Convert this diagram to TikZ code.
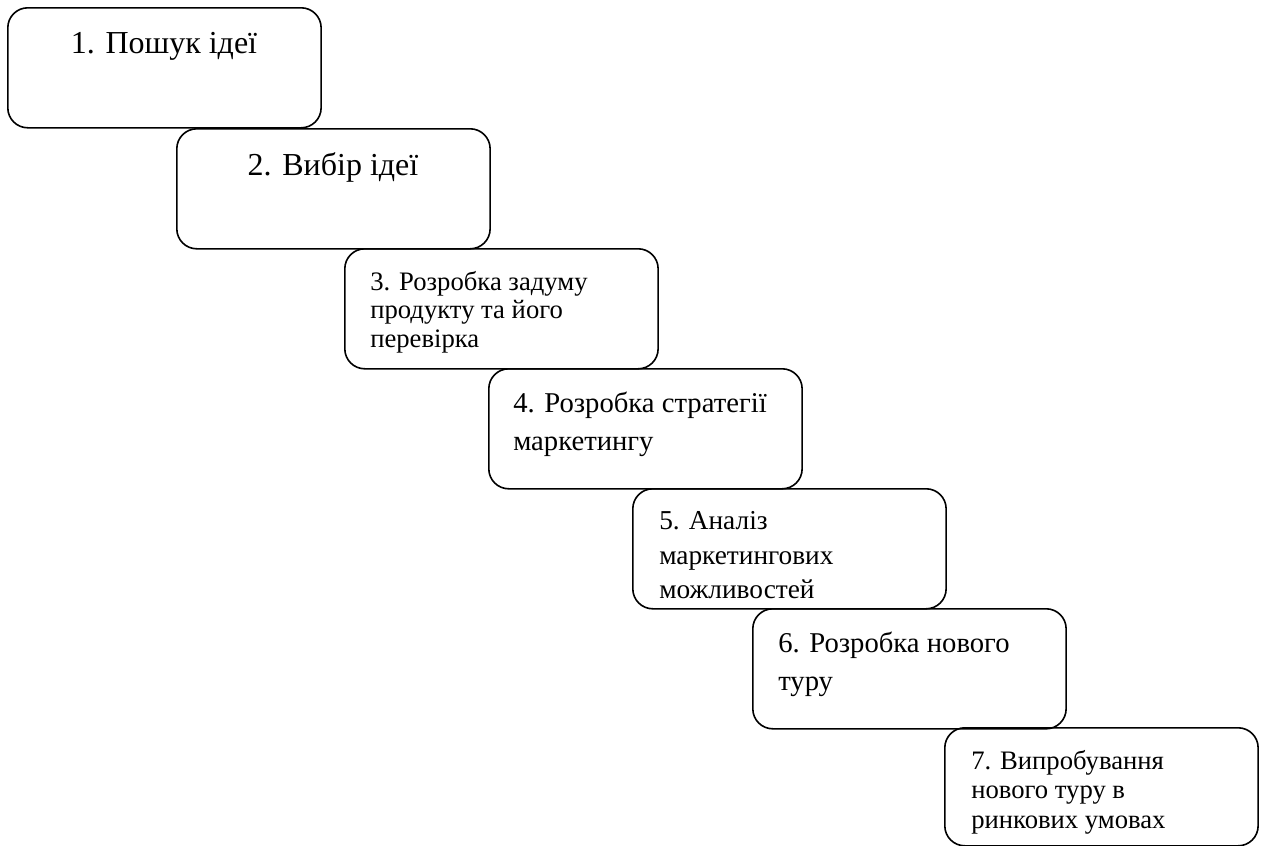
\documentclass[tikz,border=0pt]{standalone}
\usepackage{fontspec}
\setmainfont{Liberation Serif}
\usepackage{tikz}

\begin{document}
\begin{tikzpicture}[x=0.75pt,y=-0.75pt,
  stage/.style={draw,line width=1.2pt,rounded corners=15pt,anchor=north west,
    minimum width=235pt,minimum height=90pt,inner sep=0pt},
  stagetext/.style={inner sep=0pt,align=left}]

\useasboundingbox (0,0) rectangle (1264,846);

% Draw stages
\node[stage] (s1) at (7,7) {};
\node[stage] (s2) at (176,128) {};
\node[stage] (s3) at (344,248) {};
\node[stage] (s4) at (488,368) {};
\node[stage] (s5) at (632,488) {};
\node[stage] (s6) at (752,608) {};
\node[stage,minimum height=88.5pt] (s7) at (944,727) {};

% Stage texts
\node[stagetext,anchor=north,font=\fontsize{24}{28}\selectfont] (t1) at (164,32) {1. Пошук ідеї};
\node[stagetext,anchor=north,font=\fontsize{24}{28}\selectfont] (t2) at (333,152) {2. Вибір ідеї};
\node[stagetext,anchor=north west,font=\fontsize{20}{21.4}\selectfont] (t3) at (370,271)
  {3. Розробка задуму\\ продукту та його\\ перевірка};
\node[stagetext,anchor=north west,font=\fontsize{21.5}{28.5}\selectfont] (t4) at (513,392)
  {4. Розробка стратегії\\ маркетингу};
\node[stagetext,anchor=north west,font=\fontsize{20.5}{26}\selectfont] (t5) at (659,511)
  {5. Аналіз\\ маркетингових\\ можливостей};
\node[stagetext,anchor=north west,font=\fontsize{21.5}{28.5}\selectfont] (t6) at (778,632)
  {6. Розробка нового\\ туру};
\node[stagetext,anchor=north west,font=\fontsize{20}{22}\selectfont] (t7) at (971,750)
  {7. Випробування\\ нового туру в\\ ринкових умовах};

\end{tikzpicture}
\end{document}
